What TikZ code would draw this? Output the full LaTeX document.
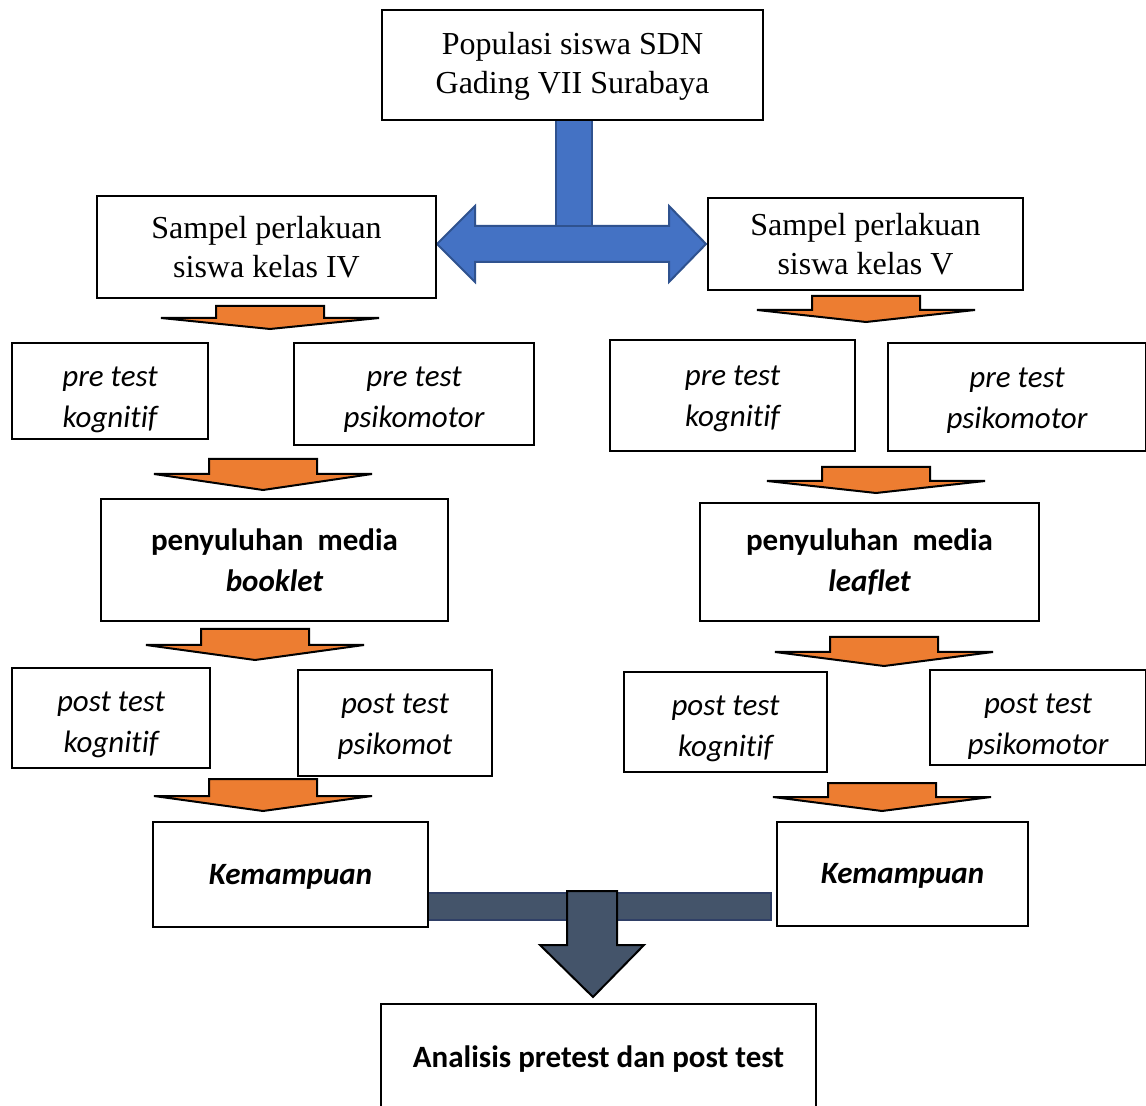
\documentclass[tikz,border=0pt]{standalone}
\usepackage{fontspec}
\setmainfont{Liberation Serif}
\newfontfamily\calfont[Ligatures={NoCommon}]{Carlito}
\definecolor{orangeA}{HTML}{ED7D31}
\definecolor{blueA}{HTML}{4472C4}
\definecolor{blueB}{HTML}{2F528F}
\definecolor{slateA}{HTML}{44546A}
\definecolor{slateB}{HTML}{2F3F66}
\newcommand\orarrow[4]{%
  \draw[flatarrow] (#1-54,#2) -- (#1+54,#2) -- (#1+54,#3) -- (#1+109,#3) -- (#1,#4)
    -- (#1-109,#3) -- (#1-54,#3) -- cycle;}
\newcommand\bx[7]{%
  \node[box,minimum width={(#5-#3)*0.5pt},minimum height={(#6-#4)*0.5pt},
    label={[#2]center:#7}]
    (#1) at ({(#3+#5)/2},{(#4+#6)/2}) {};}
\begin{document}
\begin{tikzpicture}[x=0.5pt,y=-0.5pt,
  box/.style={draw=black, line width=1.2pt, fill=white, inner sep=0pt},
  serif/.style={align=center, inner sep=0pt, font=\fontsize{16}{19.5}\selectfont},
  cali/.style={align=center, inner sep=0pt, font=\calfont\itshape\fontsize{15.5}{20.5}\selectfont},
  calb/.style={align=center, inner sep=0pt, font=\calfont\bfseries\fontsize{15.5}{20.5}\selectfont},
  calbi/.style={align=center, inner sep=0pt, font=\calfont\bfseries\itshape\fontsize{15.5}{20.5}\selectfont},
  flatarrow/.style={fill=orangeA, draw=black, line width=1pt, line join=miter},
  bluearrow/.style={fill=blueA, draw=blueB, line width=1pt, line join=miter},
  slatebar/.style={fill=slateA, draw=slateB, line width=1pt},
  slatearrow/.style={fill=slateA, draw=black, line width=1pt, line join=miter}]
\clip (0,0) rectangle (1146,1106);
\useasboundingbox (0,0) rectangle (1146,1106);
\fill[white] (0,0) rectangle (1146,1106);

% blue T double arrow
\draw[bluearrow] (475,226) -- (669,226) -- (669,206) -- (706,244) -- (669,282) -- (669,262)
  -- (475,262) -- (475,282) -- (437,244) -- (475,206) -- cycle;
\draw[bluearrow] (556,120) rectangle (592,226);

% top
\bx{pop}{serif,yshift=-0.8pt}{382}{10}{763}{120}{Populasi siswa SDN\\Gading VII Surabaya}
\bx{s4}{serif}{97}{196}{436}{298}{Sampel perlakuan\\siswa kelas IV}
\bx{s5}{serif}{708}{198}{1023}{290}{Sampel perlakuan\\siswa kelas V}

% left column
\orarrow{270}{306}{318}{329}
\bx{lpk}{cali,yshift=-4.2pt}{12}{343}{208}{439}{pre test\\kognitif}
\bx{lpp}{cali,yshift=-2.8pt}{294}{343}{534}{445}{pre test\\psikomotor}
\orarrow{263}{459}{474}{490}
\bx{lmed}{calb}{101}{499}{448}{621}{penyuluhan\ \ media\\\itshape booklet}
\orarrow{255}{629}{645}{660}
\bx{lqk}{cali,yshift=-3.2pt}{12}{668}{210}{768}{post test\\kognitif}
\bx{lqp}{cali,yshift=-2pt}{298}{670}{492}{776}{post test\\psikomot}
\orarrow{263}{779}{796}{811}

% right column
\orarrow{866}{296}{310}{322}
\bx{rpk}{cali,yshift=-1.8pt}{610}{340}{855}{451}{pre test\\kognitif}
\bx{rpp}{cali,yshift=-2pt}{888}{343}{1146}{451}{pre test\\psikomotor}
\orarrow{876}{467}{481}{493}
\bx{rmed}{calb}{700}{503}{1039}{621}{penyuluhan\ \ media\\\itshape leaflet}
\orarrow{884}{637}{652}{666}
\bx{rqk}{cali,yshift=-3.5pt}{624}{672}{827}{772}{post test\\kognitif}
\bx{rqp}{cali,yshift=-4.5pt}{930}{670}{1146}{765}{post test\\psikomotor}
\orarrow{882}{783}{797}{811}

% bottom
\draw[slatebar] (428,893) rectangle (771,920);
\bx{lkm}{calbi,yshift=-1.2pt}{153}{822}{428}{927}{Kemampuan}
\bx{rkm}{calbi,yshift=-1pt}{777}{822}{1028}{926}{Kemampuan}
\draw[slatearrow] (567,891) -- (617,891) -- (617,945) -- (644,945) -- (593,997) -- (540,945) -- (567,945) -- cycle;
\bx{ana}{calb,yshift=-1pt}{381}{1004}{816}{1110}{Analisis pretest dan post test}
\end{tikzpicture}
\end{document}
